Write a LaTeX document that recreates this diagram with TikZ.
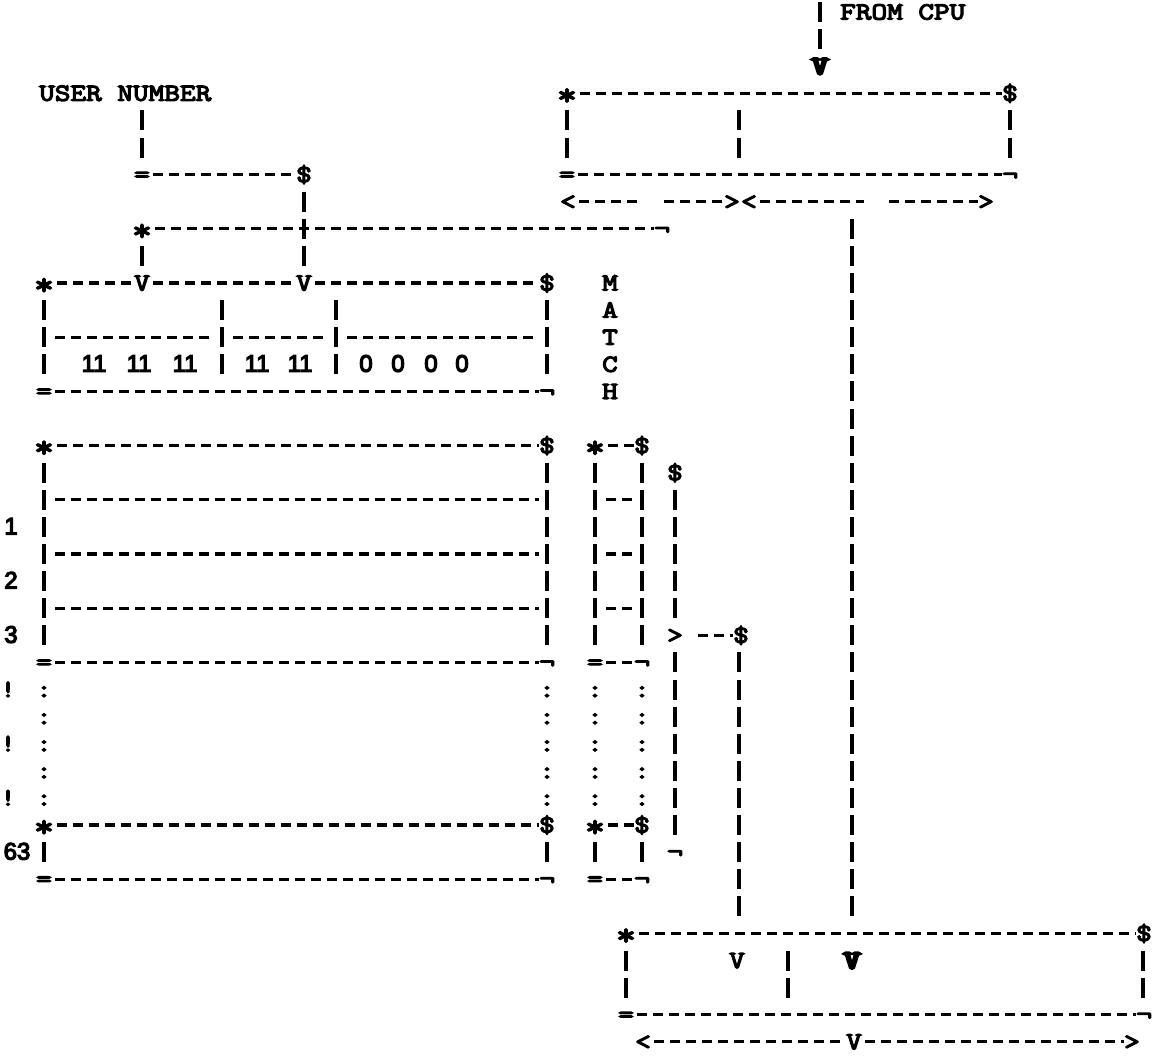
\documentclass[tikz,border=0pt]{standalone}
\usepackage{fontspec}
\newfontfamily\twfam{Latin Modern Mono}[FakeStretch=1.24, BoldFont={*}, BoldFeatures={FakeBold=5}]
\newfontfamily\hvfam{Latin Modern Mono}[FakeStretch=1.24, BoldFont={*}, BoldFeatures={FakeBold=14}]
\newfontfamily\sanfam{Liberation Sans}[BoldFont={*}, BoldFeatures={FakeBold=5}]
\newcommand\twf{\twfam\bfseries\fontsize{24.5}{27}\selectfont}
\newcommand\hvf{\hvfam\bfseries\fontsize{24.5}{27}\selectfont}
\newcommand\dgf{\sanfam\bfseries\fontsize{24}{26}\selectfont}
\newcommand\st{\raisebox{-4pt}{\scalebox{1.25}{*}}}
\newcommand\nt{\raisebox{-1pt}{¬}}
\newcommand\vbars[4]{\coordinate (#1a) at ([yshift=10pt]#2,#3);\coordinate (#1b) at ([yshift=-10pt]#2,#4);\draw[vb] (#1a) -- (#1b);}
\begin{document}
\begin{tikzpicture}[x=1pt,y=-27.1pt,
  g/.style={font=\twf, inner sep=0pt, text height=15pt, text depth=0pt},
  hv/.style={font=\hvf, inner sep=0pt, text height=15pt, text depth=0pt},
  dg/.style={font=\dgf, inner sep=0pt, text height=15pt, text depth=0pt},
  hd/.style={line width=3.2pt, dash pattern=on 10pt off 6pt, dash phase=13pt},
  vb/.style={line width=3.4pt, dash pattern=on 20pt off 7.1pt}]
\useasboundingbox (0pt,0pt) rectangle (1152pt,-1063pt);
\fill[white] (0pt,0pt) rectangle (1152pt,-1063pt);
\begin{scope}[yshift=-12pt]
% ---------- FROM CPU ----------
\vbars{cpu}{820}{0}{1}
\node[g, anchor=west] (fromcpu) at (840,0) {FROM CPU};
\node[hv] (vcpu) at (820,2) {V};
% ---------- top right register ----------
\node[g] (ta) at (567,3) {\st};
\node[g] (tb) at (1010,3) {\$};
\draw[hd] (ta.east) -- (tb.west);
\vbars{tl}{567}{4}{5}
\vbars{tm}{739}{4}{5}
\vbars{tr}{1010}{4}{5}
\node[g] (tc) at (567,6) {=};
\node[g] (td) at (1010,6) {\nt};
\draw[hd] (tc.east) -- (td.west);
\node[g] (a1l) at (568,7) {<};
\node[g] (a1r) at (732,7) {>};
\coordinate (a1g) at (639,7); \coordinate (a1h) at (661,7);
\draw[hd] (a1l.east) -- (a1g); \draw[hd] (a1h) -- (a1r.west);
\node[g] (a2l) at (749,7) {<};
\node[g] (a2r) at (986,7) {>};
\coordinate (a2g) at (864,7); \coordinate (a2h) at (886,7);
\draw[hd] (a2l.east) -- (a2g); \draw[hd] (a2h) -- (a2r.west);
\vbars{long}{852}{8}{33}
% ---------- user number ----------
\node[g, anchor=west] (user) at (39,3) {USER NUMBER};
\vbars{u}{142}{4}{5}
\node[g] (la) at (142,6) {=};
\node[g] (lb) at (304,6) {\$};
\draw[hd] (la.east) -- (lb.west);
\node[g] (lc) at (142,8) {\st};
\node[g] (ld) at (662,8) {\nt};
\draw[hd] (lc.east) -- (ld.west);
\vbars{w}{304}{7}{9}
\vbars{x}{142}{9}{9}
% ---------- match register ----------
\node[g] (ma) at (44,10) {\st};
\node[g] (mv1) at (142,10) {V};
\node[g] (mv2) at (304,10) {V};
\node[g] (mb) at (547,10) {\$};
\draw[hd] (ma.east) -- (mv1.west);
\draw[hd] (mv1.east) -- (mv2.west);
\draw[hd] (mv2.east) -- (mb.west);
\vbars{m1}{44}{11}{13}
\vbars{m2}{222}{11}{13}
\vbars{m3}{336}{11}{13}
\vbars{m4}{547}{11}{13}
\coordinate (m12a) at (52,12); \coordinate (m12b) at (214,12);
\coordinate (m12c) at (230,12); \coordinate (m12d) at (328,12);
\coordinate (m12e) at (344,12); \coordinate (m12f) at (539,12);
\draw[hd] (m12a) -- (m12b); \draw[hd] (m12c) -- (m12d); \draw[hd] (m12e) -- (m12f);
\node[dg] (d1) at (94,13) {11};
\node[dg] (d2) at (139,13) {11};
\node[dg] (d3) at (185,13) {11};
\node[dg] (d4) at (257,13) {11};
\node[dg] (d5) at (300,13) {11};
\node[dg] (z1) at (366,13) {0};
\node[dg] (z2) at (398,13) {0};
\node[dg] (z3) at (431,13) {0};
\node[dg] (z4) at (462,13) {0};
\node[g] (mc) at (44,14) {=};
\node[g] (md) at (547,14) {\nt};
\draw[hd] (mc.east) -- (md.west);
\node[g] (tM) at (610,10) {M};
\node[g] (tA) at (610,11) {A};
\node[g] (tT) at (610,12) {T};
\node[g] (tC) at (610,13) {C};
\node[g] (tH) at (610,14) {H};
% ---------- table ----------
\node[g] (ba) at (44,16) {\st};
\node[g] (bb) at (547,16) {\$};
\draw[hd] (ba.east) -- (bb.west);
\node[g] (sa) at (595,16) {\st};
\node[g] (sb) at (642,16) {\$};
\draw[hd] (sa.east) -- (sb.west);
\node[g] (oa) at (675,17) {\$};
\vbars{b1}{44}{17}{23}
\vbars{b2}{547}{17}{23}
\vbars{s1}{595}{17}{23}
\vbars{s2}{642}{17}{23}
\vbars{o1}{675}{18}{22}
\foreach \r in {18,20,22}{
  \coordinate (h\r a) at (52,\r); \coordinate (h\r b) at (539,\r);
  \coordinate (k\r a) at (603,\r); \coordinate (k\r b) at (634,\r);
  \draw[hd] (h\r a) -- (h\r b);
  \draw[hd] (k\r a) -- (k\r b);
}
\node[dg] (n1) at (11,19) {1};
\node[dg] (n2) at (11,21) {2};
\node[dg] (n3) at (11,23) {3};
\node[g] (ob) at (675,23) {>};
\node[g] (oc) at (741,23) {\$};
\coordinate (od) at (695,23);
\draw[hd] (od) -- (oc.west);
\node[g] (bc) at (44,24) {=};
\node[g] (bd) at (547,24) {\nt};
\draw[hd] (bc.east) -- (bd.west);
\node[g] (sc) at (595,24) {=};
\node[g] (sd) at (642,24) {\nt};
\draw[hd] (sc.east) -- (sd.west);
\vbars{o2}{675}{24}{30}
\vbars{o3}{739}{24}{33}
\foreach \r in {25,...,29}{
  \node[g] (c1\r) at (44,\r) {:};
  \node[g] (c2\r) at (547,\r) {:};
  \node[g] (c3\r) at (595,\r) {:};
  \node[g] (c4\r) at (642,\r) {:};
}
\foreach \r in {25,27,29}{ \node[g] (ex\r) at (8,\r) {!}; }
\node[g] (be) at (44,30) {\st};
\node[g] (bf) at (547,30) {\$};
\draw[hd] (be.east) -- (bf.west);
\node[g] (se) at (595,30) {\st};
\node[g] (sf) at (642,30) {\$};
\draw[hd] (se.east) -- (sf.west);
\node[dg] (n63) at (17,31) {63};
\vbars{e1}{44}{31}{31}
\vbars{e2}{547}{31}{31}
\vbars{e3}{595}{31}{31}
\vbars{e4}{642}{31}{31}
\node[g] (oe) at (675,31) {\nt};
\node[g] (bg) at (44,32) {=};
\node[g] (bh) at (547,32) {\nt};
\draw[hd] (bg.east) -- (bh.west);
\node[g] (sg) at (595,32) {=};
\node[g] (sh) at (642,32) {\nt};
\draw[hd] (sg.east) -- (sh.west);
% ---------- bottom register ----------
\node[g] (qa) at (626,34) {\st};
\node[g] (qb) at (1144,34) {\$};
\draw[hd] (qa.east) -- (qb.west);
\vbars{q1}{626}{35}{36}
\vbars{q2}{788}{35}{36}
\vbars{q3}{1143}{35}{36}
\node[g] (qv1) at (737,35) {V};
\node[hv] (qv2) at (852,35) {V};
\node[g] (qc) at (626,37) {=};
\node[g] (qd) at (1144,37) {\nt};
\draw[hd] (qc.east) -- (qd.west);
\node[g] (pl) at (643,38) {<};
\node[g] (pv) at (854,38) {V};
\node[g] (pr) at (1132,38) {>};
\draw[hd] (pl.east) -- (pv.west);
\draw[hd] (pv.east) -- (pr.west);
\end{scope}
\end{tikzpicture}
\end{document}
